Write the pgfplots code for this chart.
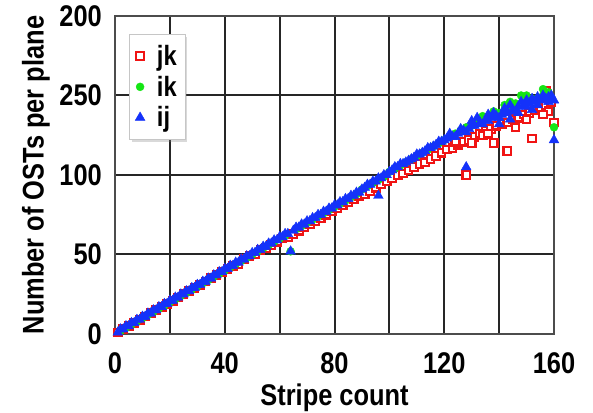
\documentclass[border=0pt]{standalone}
\usepackage{pgfplots}
\pgfplotsset{compat=1.18}
\usepackage{fontspec}
\setmainfont{Liberation Sans}
\newfontfamily\narrowfont[FakeStretch=0.85]{Liberation Sans}
\usetikzlibrary{shadows}
\definecolor{jkred}{RGB}{240,20,20}
\definecolor{ikgreen}{RGB}{20,230,20}
\definecolor{ijblue}{RGB}{20,50,250}
\begin{document}
\begin{tikzpicture}
\begin{axis}[
  at={(0,0)}, anchor=south west,
  scale only axis, width=439bp, height=318bp,
  xmin=0, xmax=160, ymin=0, ymax=200,
  xtick={0,20,...,160}, xticklabels={0,,40,,80,,120,,160},
  ytick={0,50,100,150,200}, yticklabels={0,50,100,250,200},
  grid=major, grid style={black!85, line width=2bp},
  axis line style={black!70, line width=2.8bp},
  major tick length=0pt,
  /pgf/number format/assume math mode=true,
  ticklabel style={font=\narrowfont\bfseries\fontsize{30}{30}\selectfont},
  xticklabel style={anchor=base, yshift=-39bp},
  yticklabel style={anchor=east, inner sep=0pt, xshift=-13bp},
  xlabel={Stripe count},
  ylabel={Number of OSTs per plane},
  label style={font=\narrowfont\bfseries\fontsize{30}{30}\selectfont},
  xlabel style={at={(axis description cs:0.5,0)}, anchor=base, yshift=-71bp},
  ylabel style={at={(axis description cs:-0.18,0.5)}, anchor=center, rotate=0},
  legend style={at={(axis description cs:0.032,0.943)}, anchor=north west,
    font=\narrowfont\bfseries\fontsize{28}{28}\selectfont,
    draw=gray!45, fill=white, drop shadow={shadow xshift=2.5bp, shadow yshift=-2.5bp, opacity=0.3},
    row sep=5bp, inner xsep=6bp, inner ysep=9bp,
    /tikz/every odd column/.append style={column sep=10bp}},
  legend cell align=left,
]
\addplot[only marks, mark=square*, mark size=3.8bp, mark options={draw=jkred, fill=white, line width=2.2bp}] coordinates {
(1,1)(3,3)(5,5)(7,7)(9,9)(11,11)(13,13)(15,15)(17,17)(19,19)(21,21)(23,23)(25,25)(27,27)(29,29)(31,31)(33,33)(35,35)(37,37)(39,39)
(41,41)(43,43)(45,44)(47,47)(49,49)(51,50)(53,53)(55,54)(57,56)(59,58)(61,60)(63,61)(65,63)(67,65)(69,67)(71,69)(73,71)(75,73)(77,75)(79,77)
(81,79)(83,81)(85,83)(87,85)(89,87)(91,88)(93,90)(95,92)(97,94)(99,96)(101,98)(103,100)(105,101)(107,103)(109,105)(111,107)(113,108)(115,110)(117,112)(119,114)
(121,116)(123,117)(125,119)(127,121)(129,122)(131,124)(133,126)(135,128)(137,129)(139,131)(141,132)(143,133)(145,135)(147,136)(149,138)(151,139)(153,141)(155,142)(157,144)(159,146)
(128,100)(130,120)(138,120)(143,115)(152,123)(157,153)(158,140)(160,133)(134,125)(146,130)(124,121)(136,126)(150,135)(156,138)
};
\addlegendentry{jk}
\addplot[only marks, mark=*, mark size=4bp, mark options={draw=ikgreen, fill=ikgreen}] coordinates {
(2,2)(4,4)(6,6)(8,8)(10,10)(12,12)(14,14)(16,16)(18,18)(20,20)(22,22)(24,24)(26,26)(28,28)(30,30)(32,32)(34,34)(36,36)(38,38)(40,40)
(42,42)(44,44)(46,46)(48,48)(50,50)(52,52)(54,54)(56,56)(58,58)(60,60)(62,62)(64,52)(66,66)(68,68)(70,70)(72,72)(74,74)(76,76)(78,78)(80,80)
(82,82)(84,84)(86,86)(88,88)(90,91)(92,93)(94,95)(96,97)(98,99)(100,102)(102,104)(104,106)(106,108)(108,110)(110,112)(112,114)(114,116)(116,118)(118,120)(120,122)
(122,124)(124,126)(126,128)(128,130)(130,131)(132,133)(134,134)(136,136)(138,138)(140,139)(142,141)(144,143)(146,145)(148,150)(150,146)(152,148)(154,147)(156,150)(158,152)(160,130)
(138,140)(144,146)(150,150)(156,154)(134,137)(142,144)
};
\addlegendentry{ik}
\addplot[only marks, mark=triangle*, mark size=5.6bp, mark options={draw=ijblue, fill=ijblue}] coordinates {
(1,1)(3,3)(5,5)(7,7)(9,9)(11,11)(13,13)(15,15)(17,17)(19,19)(21,21)(23,23)(25,25)(27,27)(29,29)(31,31)(33,33)(35,35)(37,37)(39,39)
(41,41)(43,43)(45,45)(47,47)(49,49)(51,51)(53,53)(55,55)(57,57)(59,59)(61,61)(63,63)(65,65)(67,67)(69,69)(71,71)(73,73)(75,75)(77,77)(79,79)
(81,81)(83,83)(85,85)(87,87)(89,89)(91,92)(93,94)(95,96)(97,98)(99,100)(101,103)(103,105)(105,107)(107,109)(109,111)(111,113)(113,115)(115,117)(117,119)(119,121)
(121,123)(123,124)(125,126)(127,128)(129,129)(131,131)(133,133)(135,134)(137,136)(139,137)(141,138)(143,140)(145,141)(147,143)(149,144)(151,145)(153,146)(155,147)(157,148)(159,150)
(2,3)(4,5)(6,7)(8,9)(10,11)(12,13)(14,15)(16,17)(18,19)(20,21)(22,23)(24,25)(26,27)(28,29)(30,31)(32,33)(34,35)(36,37)(38,39)(40,41)
(42,43)(44,45)(46,47)(48,49)(50,51)(52,53)(54,55)(56,57)(58,59)(60,61)(62,63)(66,67)(68,69)(70,71)(72,73)(74,75)(76,77)(78,79)(80,81)
(82,83)(84,85)(86,87)(88,89)(90,91)(92,94)(94,96)(96,98)(98,100)(100,102)(102,105)(104,107)(106,108)(108,110)(110,113)(112,114)(114,117)(116,118)(118,121)(120,122)
(122,126)(124,124)(126,129)(128,127)(130,131)(132,136)(134,132)(136,134)(138,139)(140,136)(142,139)(144,144)(146,140)(148,146)(150,143)(152,148)(154,144)(156,150)(158,149)(160,147)
(64,52)(96,87)(128,105)(160,122)(140,132)(147,139)(130,134)(136,138)(142,142)(150,147)(154,149)(158,146)(144,135)(152,141)
};
\addlegendentry{ij}
\end{axis}
\pgfresetboundingbox
\path[use as bounding box] (-115bp,-79bp) rectangle (478bp,334bp);
\end{tikzpicture}
\end{document}
